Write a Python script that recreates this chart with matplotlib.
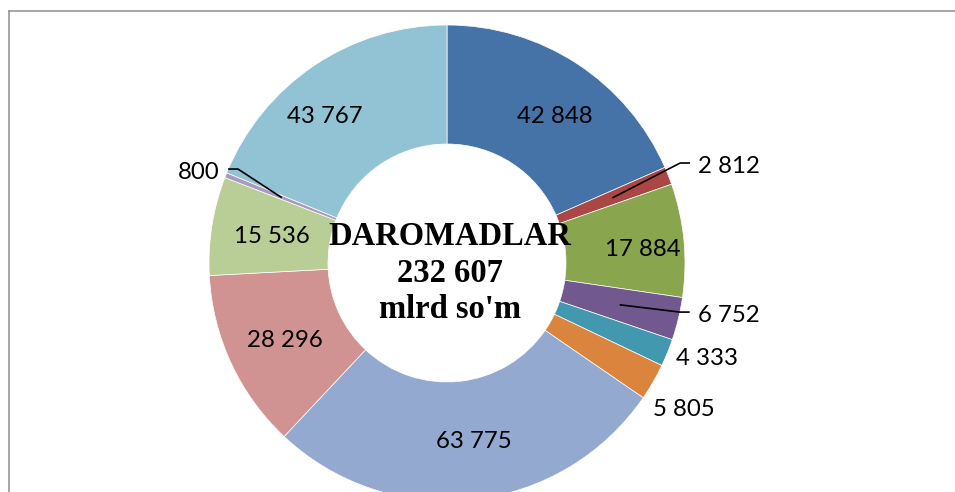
import matplotlib
matplotlib.use('Agg')
import matplotlib.pyplot as plt
from matplotlib.lines import Line2D
import numpy as np

values = [42848, 2812, 17884, 6752, 4333, 5805, 63775, 28296, 15536, 800, 43767]
labels = ['42 848', '2 812', '17 884', '6 752', '4 333', '5 805',
          '63 775', '28 296', '15 536', '800', '43 767']
colors = ['#4572A7', '#AA4643', '#89A54E', '#71588F', '#4198AF', '#DB843D',
          '#93A9CF', '#D19392', '#B9CD96', '#A99BBD', '#92C3D4']
center_lines = ['DAROMADLAR', '232 607', "mlrd so'm"]

# label layout (style): radius, angle shift (deg), leader flag
lab_r = [0.77, 1.13, 0.826, 1.0, 1.16, 1.165, 0.752, 0.75, 0.745, 0.963, 0.806]
lab_dt = [-2.95, 0.0, -1.1, 0.0, 2.45, -1.3, 2.5, 0.0, -0.4, 0.0, 5.6]
leader = [False, True, False, True, False, False, False, False, False, True, False]
# leader elbow (radius, angle shift), horizontal direction
lead_r = {1: 1.066, 3: 1.0, 9: 0.963}
lead_dt = {1: 1.7, 3: 1.67, 9: -2.56}
lead_dir = {1: 1, 3: 1, 9: -1}

W, H = 955, 492
fig = plt.figure(figsize=(W / 100, H / 100), dpi=100)
cx, cy, R = 447, 263, 238
ax = fig.add_axes([(cx - R) / W, (H - cy - R) / H, 2 * R / W, 2 * R / H])
wedges, _ = ax.pie(values, colors=colors, startangle=90, counterclock=False,
                   radius=1, wedgeprops=dict(width=0.5, edgecolor='white', linewidth=0.5))
ax.set_xlim(-1, 1)
ax.set_ylim(-1, 1)
ax.set_aspect('equal')
ax.axis('off')

px = 1.0 / R
dy = -2 * px
lab_font = dict(family=['Lato', 'DejaVu Sans'], fontsize=17.3, color='black')
for i, w in enumerate(wedges):
    mid = np.deg2rad((w.theta1 + w.theta2) / 2)
    if leader[i]:
        x0, y0 = 0.75 * np.cos(mid), 0.75 * np.sin(mid)
        ae = mid + np.deg2rad(lead_dt[i])
        xe, ye = lead_r[i] * np.cos(ae), lead_r[i] * np.sin(ae)
        d = lead_dir[i]
        xh = xe + d * 9 * px
        ax.add_line(Line2D([x0, xe, xh], [y0, ye, ye], color='black', lw=1.2,
                           clip_on=False))
        ax.text(xh + d * 9 * px, ye - 1 * px + dy, labels[i],
                ha='left' if d > 0 else 'right', va='center', **lab_font)
    else:
        a = mid + np.deg2rad(lab_dt[i])
        ax.text(lab_r[i] * np.cos(a), lab_r[i] * np.sin(a) + dy, labels[i],
                ha='center', va='center', **lab_font)

baselines = [245, 282, 318]
for t, yb in zip(center_lines, baselines):
    ax.text(3 * px, (cy - yb) * px, t, ha='center', va='baseline',
            family=['Liberation Serif', 'DejaVu Serif'], fontweight='bold',
            fontsize=23.5, color='black')

# chart frame (top and left visible)
fig.add_artist(Line2D([9 / W, 1.0], [1 - 10.5 / H, 1 - 10.5 / H],
                      color='#8e8e8e', lw=1.1, transform=fig.transFigure))
fig.add_artist(Line2D([9 / W, 9 / W], [0, 1 - 10.5 / H],
                      color='#8e8e8e', lw=1.1, transform=fig.transFigure))

fig.savefig('out.png', dpi=100)
